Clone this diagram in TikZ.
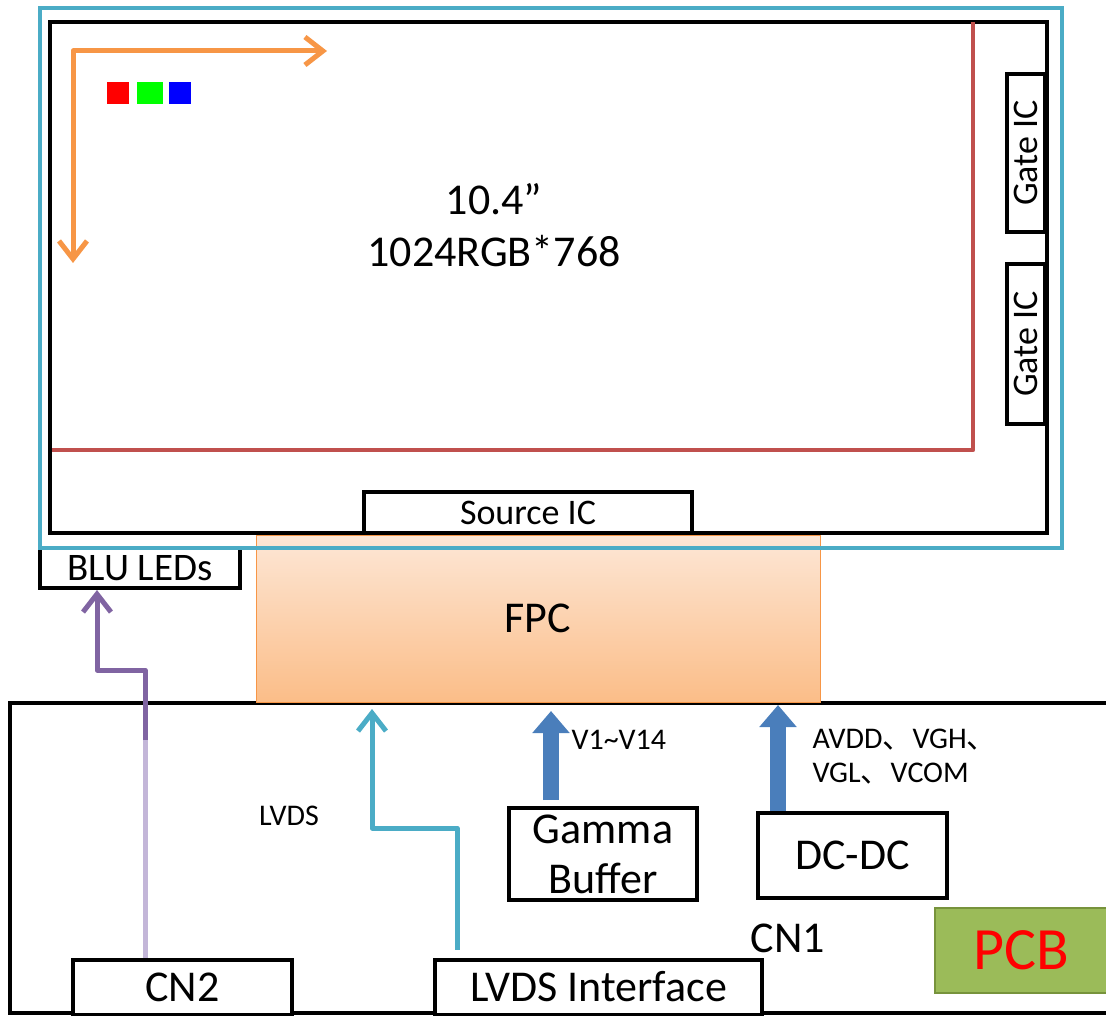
\documentclass[tikz,border=0pt]{standalone}
\usepackage{fontspec}
\setmainfont{Carlito}
\newfontfamily\cjk{Noto Sans CJK SC}
\usetikzlibrary{arrows.meta}

\definecolor{frameblue}{HTML}{4BACC6}
\definecolor{rowred}{HTML}{C0504D}
\definecolor{scanorange}{HTML}{F79646}
\definecolor{ledpurple}{HTML}{8064A2}
\definecolor{ledlilac}{HTML}{C3B6D8}
\definecolor{fpctop}{HTML}{FDE7D6}
\definecolor{fpcbottom}{HTML}{FBBD88}
\definecolor{powerblue}{HTML}{4A7EBB}
\definecolor{pcbgreen}{HTML}{9BBB59}
\definecolor{pcbedge}{HTML}{77933C}

\begin{document}
\begin{tikzpicture}[
                box/.style={
                    draw=black,
                    line width=4pt,
                    fill=white,
                    inner sep=0pt
                },
                big/.style={font=\fontsize{44}{52}\selectfont},
                mid/.style={font=\fontsize{36}{40}\selectfont},
                small/.style={font=\fontsize{30}{34}\selectfont},
                barb/.style={
                    line width=5pt,
                    line join=round,
                    -{Straight Barb[length=18pt,width=28pt]}
                },
                fat/.style={
                    line width=16pt,
                    draw=powerblue,
                    -{Triangle[length=22pt,width=36pt]}
                },
                x=1pt,
                y=-1pt
            ]

        \useasboundingbox (0,0) rectangle (1106,1016);
        \clip (0,0) rectangle (1106,1016);

        % PCB board
        \node[box, fill=none, minimum width=1105pt, minimum height=310pt]
            (pcb) at (562.5,858) {};

        % FPC
        \node[draw=scanorange, line width=1pt, top color=fpctop,
              bottom color=fpcbottom, minimum width=564pt,
              minimum height=167pt, big] (fpc) at (538,618.5) {FPC};

        % BLU LEDs
        \node[box, minimum width=200pt, minimum height=40pt,
              font=\fontsize{39}{42}\selectfont]
            (blu) at (140,568) {BLU LEDs};

        % Panel
        \node[box, minimum width=997pt, minimum height=511pt]
            (panel) at (548.5,277.5) {};
        \node[box, minimum width=328pt, minimum height=41pt, mid]
            (source) at (528,512.5) {Source IC};
        \node[box, rotate=90, minimum width=158pt, minimum height=38pt, mid]
            (gate1) at (1026,153) {Gate IC};
        \node[box, rotate=90, minimum width=160pt, minimum height=38pt, mid]
            (gate2) at (1026,344) {Gate IC};

        % outer frame
        \node[draw=frameblue, line width=4pt, minimum width=1022pt,
              minimum height=540pt] (frame) at (551,278) {};

        % Row line
        \coordinate (rowstart) at (52,450);
        \coordinate (rowcorner) at (973,450);
        \coordinate (rowend) at (973,22);
        \draw[rowred, line width=4.5pt, line join=round]
            (rowstart) -- (rowcorner) -- (rowend);

        % Scan direction
        \coordinate (scandown) at (73,263);
        \coordinate (scancorner) at (73,51);
        \coordinate (scanright) at (327,51);
        \draw[scanorange, barb,
              {Straight Barb[length=18pt,width=28pt]}-{Straight Barb[length=18pt,width=28pt]}]
            (scandown) -- (scancorner) -- (scanright);

        % Sub pixels
        \foreach \c/\x/\w in {red/118/22,green/150/26,blue/180/22}
        \node[fill=\c, minimum width=\w pt, minimum height=22pt,
              inner sep=0pt] (sub-\c) at (\x,93) {};

        \node[big, align=center] (size) at (494,225)
            {10.4”\\1024RGB*768};

        % Board parts
        \node[box, minimum width=188pt, minimum height=92pt, big,
              align=center, font=\fontsize{44}{50}\selectfont]
            (gamma) at (603,854) {Gamma\\Buffer};
        \node[box, minimum width=189pt, minimum height=85pt, big]
            (dcdc) at (852.5,855.5) {DC-DC};
        \node[box, minimum width=219pt, minimum height=55pt, big]
            (cn2) at (182.5,987) {CN2};
        \node[box, minimum width=327pt, minimum height=55pt, big]
            (lvds) at (598.5,987) {LVDS Interface};
        \node[draw=pcbedge, line width=2pt, fill=pcbgreen,
              minimum width=172pt, minimum height=85pt, text=red,
              font=\fontsize{60}{64}\selectfont]
            (pcbtag) at (1021,950) {PCB};
        \node[big] (cn1) at (788,938) {CN1};

        % Labels
        \node[small] (lvdslabel) at (289,816) {LVDS};
        \node[small, anchor=west] (gammalabel) at (568,740) {V1\~{}V14};
        \node[small, anchor=west, align=left] (powerlabel) at (809,757)
            {AVDD{\cjk 、}VGH{\cjk 、}\\VGL{\cjk 、}VCOM};

        % Backlight wire
        \coordinate (ledjog) at (145,740);
        \draw[ledlilac, line width=5pt] ([xshift=-37.5pt]cn2.north) -- (ledjog);
        \draw[ledpurple, barb] (ledjog) -- (145,670) -- (97,670)
            -- ([xshift=-43pt]blu.south);

        % LVDS wire
        \coordinate (lvdsbend) at (457,828);
        \coordinate (lvdstip) at (372,709);
        \draw[frameblue, barb] ([xshift=-141.5pt,yshift=8pt]lvds.north)
            -- (lvdsbend) -| (lvdstip);

        % Power arrows
        \draw[fat, shorten >=10pt] ([xshift=-52pt,yshift=6pt]gamma.north)
            -- ([xshift=-11.5pt]pcb.north);
        \draw[fat, shorten >=4pt] ([xshift=-74.5pt]dcdc.north)
            -- ([xshift=215.5pt]pcb.north);

            \end{tikzpicture}
\end{document}
